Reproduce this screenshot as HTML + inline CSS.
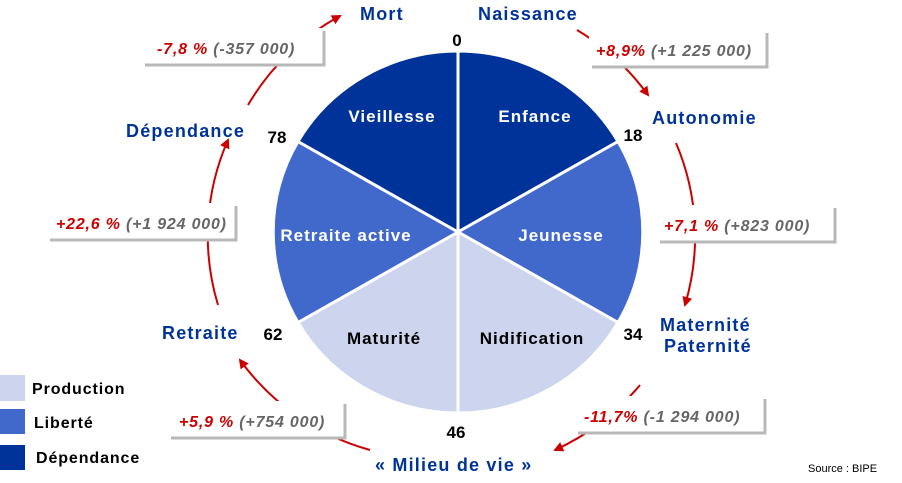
<!DOCTYPE html>
<html><head><meta charset="utf-8"><style>
body{margin:0;background:#fff;}
svg{display:block;font-family:"Liberation Sans",Arial,sans-serif;}
</style></head><body>
<svg width="902" height="483" viewBox="0 0 902 483" xmlns="http://www.w3.org/2000/svg">
<defs>
<marker id="ah" viewBox="0 0 10 10" refX="8" refY="5" markerWidth="5" markerHeight="5" orient="auto"><path d="M0,0 L10,5 L0,10 z" fill="#cc0000"/></marker>
</defs>
<g fill="none" stroke="#cc0000" stroke-width="2" marker-end="url(#ah)">
<path d="M577,30 A238,238 0 0 1 648,95"/>
<path d="M676,143 A238,238 0 0 1 685,305"/>
<path d="M640,385 A238,238 0 0 1 555,450"/>
<path d="M370,450 A238,238 0 0 1 240,360"/>
<path d="M218,305 A238,238 0 0 1 228,140"/>
<path d="M248,105 A238,238 0 0 1 340,16"/>
</g>
<g stroke="#fff" stroke-width="3">
<path d="M458,232 L458,51 A185,181 0 0 1 618,141.5 Z" fill="#003399"/>
<path d="M458,232 L618,141.5 A185,181 0 0 1 618,322.5 Z" fill="#4169cc"/>
<path d="M458,232 L618,322.5 A185,181 0 0 1 458,413 Z" fill="#ccd4ee"/>
<path d="M458,232 L458,413 A185,181 0 0 1 298,322.5 Z" fill="#ccd4ee"/>
<path d="M458,232 L298,322.5 A185,181 0 0 1 298,141.5 Z" fill="#4169cc"/>
<path d="M458,232 L298,141.5 A185,181 0 0 1 458,51 Z" fill="#003399"/>
</g>
<g font-weight="bold" font-size="17" text-anchor="middle" letter-spacing="1">
<text x="392" y="122" fill="#fff">Vieillesse</text>
<text x="535" y="122" fill="#fff">Enfance</text>
<text x="346" y="241" fill="#fff">Retraite active</text>
<text x="561" y="241" fill="#fff">Jeunesse</text>
<text x="384" y="344" fill="#000">Maturité</text>
<text x="532" y="344" fill="#000">Nidification</text>
</g>
<g font-weight="bold" font-size="17" fill="#000" text-anchor="middle">
<text x="457" y="46">0</text>
<text x="633" y="141">18</text>
<text x="633" y="340">34</text>
<text x="456" y="438">46</text>
<text x="273" y="340">62</text>
<text x="277" y="143">78</text>
</g>
<g font-weight="bold" font-size="18" fill="#003399" letter-spacing="1.2">
<text x="360" y="20">Mort</text>
<text x="478" y="20">Naissance</text>
<text x="652" y="124">Autonomie</text>
<text x="126" y="137">Dépendance</text>
<text x="162" y="339">Retraite</text>
<text x="660" y="331">Maternité</text>
<text x="664" y="352">Paternité</text>
<text x="375" y="471">« Milieu de vie »</text>
</g>
<g fill="#fff">
<rect x="142" y="28" width="182" height="37"/>
<rect x="589" y="30" width="178" height="37"/>
<rect x="657" y="205" width="178" height="37"/>
<rect x="47" y="203" width="189" height="37"/>
<rect x="168" y="401" width="177" height="37"/>
<rect x="575" y="396" width="190" height="37"/>
</g>
<g fill="none" stroke="#b8b8b8" stroke-width="3">
<path d="M145,65 H324 V31"/>
<path d="M592,67 H767 V33"/>
<path d="M660,242 H835 V208"/>
<path d="M50,240 H236 V206"/>
<path d="M171,438 H345 V404"/>
<path d="M578,433 H765 V399"/>
</g>
<g font-weight="bold" font-style="italic" font-size="16" letter-spacing="0.8">
<text x="157" y="54"><tspan fill="#cc0000">-7,8 %</tspan><tspan fill="#666"> (-357 000)</tspan></text>
<text x="596" y="56"><tspan fill="#cc0000">+8,9%</tspan><tspan fill="#666"> (+1 225 000)</tspan></text>
<text x="664" y="231"><tspan fill="#cc0000">+7,1 %</tspan><tspan fill="#666"> (+823 000)</tspan></text>
<text x="56" y="229"><tspan fill="#cc0000">+22,6 %</tspan><tspan fill="#666"> (+1 924 000)</tspan></text>
<text x="179" y="427"><tspan fill="#cc0000">+5,9 %</tspan><tspan fill="#666"> (+754 000)</tspan></text>
<text x="584" y="422"><tspan fill="#cc0000">-11,7%</tspan><tspan fill="#666"> (-1 294 000)</tspan></text>
</g>
<rect x="0" y="375" width="25" height="26" fill="#ccd4ee"/>
<rect x="0" y="409" width="25" height="25" fill="#4169cc"/>
<rect x="0" y="445" width="25" height="25" fill="#003399"/>
<g font-weight="bold" font-size="16" fill="#000" letter-spacing="0.9">
<text x="32" y="394">Production</text>
<text x="34" y="428">Liberté</text>
<text x="36" y="463">Dépendance</text>
</g>
<text x="808" y="472" font-size="11" fill="#000">Source : BIPE</text>
</svg>
</body></html>
